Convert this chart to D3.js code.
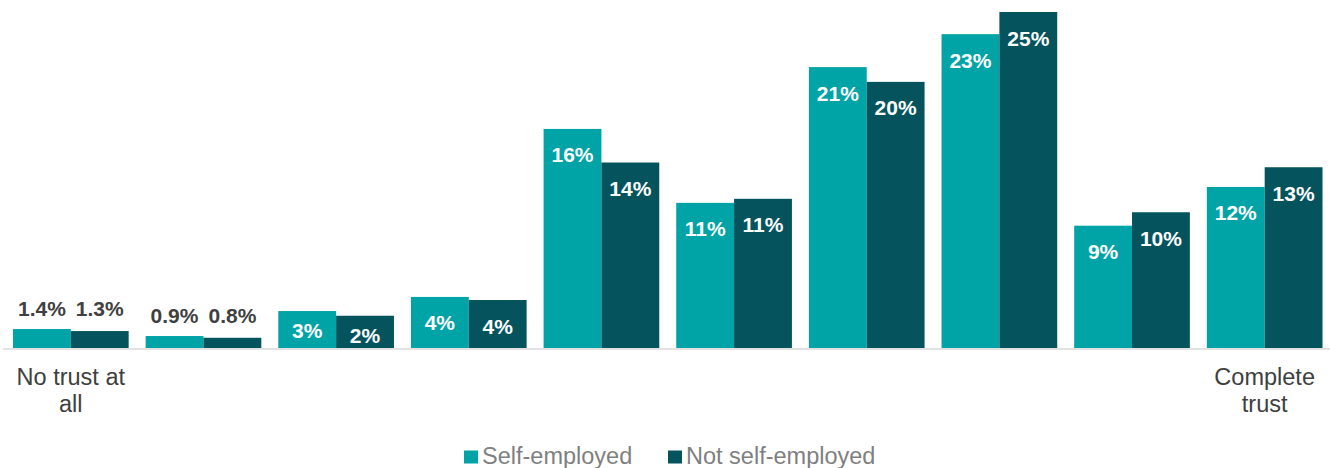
<!DOCTYPE html>
<html>
<head>
<meta charset="utf-8">
<script src="https://cdn.jsdelivr.net/npm/d3@7"></script>
<style>
  html, body { margin: 0; padding: 0; background: #fff; }
  svg { display: block; font-family: "Liberation Sans", Arial, sans-serif; }
</style>
</head>
<body>
<svg id="chart" width="1330" height="468"></svg>
<script>
// Trust scale categories (0 = no trust at all, 10 = complete trust)
const categories = ["0", "1", "2", "3", "4", "5", "6", "7", "8", "9"];
const categoryLabels = [["No trust at", "all"], [], [], [], [], [], [], [], [], ["Complete", "trust"]];
const seriesNames = ["Self-employed", "Not self-employed"];
const selfEmployed = [1.41, 0.89, 2.75, 3.8, 16.3, 10.8, 20.9, 23.35, 9.1, 11.98];
const notSelfEmployed = [1.26, 0.76, 2.4, 3.57, 13.8, 11.1, 19.8, 25.0, 10.1, 13.45];
const colors = ["#00a3a6", "#04535d"];

const svg = d3.select("#chart");
const baseline = 348;

const x = d3.scaleBand().domain(categories).range([4.5, 1331]).paddingInner(0.128).paddingOuter(0.064);
const xs = d3.scaleBand().domain(seriesNames).range([0, x.bandwidth()]);
const y = d3.scaleLinear().domain([0, 25]).range([baseline, 12]);

const fmt = v => (v < 2 ? v.toFixed(1) : String(Math.round(v))) + "%";

const rows = categories.map((c, i) => ({
  cat: c,
  vals: [selfEmployed[i], notSelfEmployed[i]]
}));

// baseline
svg.append("line")
  .attr("x1", 3).attr("x2", 1330)
  .attr("y1", baseline + 1).attr("y2", baseline + 1)
  .attr("stroke", "#d9d9d9").attr("stroke-width", 1.5);

const groups = svg.selectAll("g.grp").data(rows).join("g")
  .attr("class", "grp")
  .attr("transform", d => `translate(${x(d.cat)},0)`);

groups.selectAll("rect").data(d => d.vals.map((v, j) => ({ v, j }))).join("rect")
  .attr("x", d => xs(seriesNames[d.j]))
  .attr("width", xs.bandwidth())
  .attr("y", d => y(d.v))
  .attr("height", d => baseline - y(d.v))
  .attr("fill", d => colors[d.j]);

// value labels: inside the bar top when there is room, above the bar otherwise
groups.each(function (d) {
  const g = d3.select(this);
  const maxTop = Math.min(...d.vals.map(v => y(v)));
  d.vals.forEach((v, j) => {
    const top = y(v);
    const h = baseline - top;
    let yy, fill;
    if (h < 25) {
      yy = maxTop - 13.5;
      fill = "#404040";
    } else if (h < 45) {
      yy = top + 27;
      fill = "#ffffff";
    } else {
      yy = top + 33.5;
      fill = "#ffffff";
    }
    g.append("text")
      .attr("x", xs(seriesNames[j]) + xs.bandwidth() / 2)
      .attr("y", yy)
      .attr("text-anchor", "middle")
      .attr("font-size", 21)
      .attr("font-weight", "bold")
      .attr("fill", fill)
      .text(fmt(v));
  });
});

// category end labels
groups.each(function (d, i) {
  const lines = categoryLabels[i];
  const t = d3.select(this).append("text")
    .attr("text-anchor", "middle")
    .attr("font-size", 23.5)
    .attr("fill", "#404040");
  lines.forEach((ln, k) => {
    t.append("tspan")
      .attr("x", x.bandwidth() / 2)
      .attr("y", 385 + k * 27)
      .text(ln);
  });
});

// legend
const legendItems = [
  { name: seriesNames[0], color: colors[0], sx: 464, tx: 482 },
  { name: seriesNames[1], color: colors[1], sx: 668, tx: 686 }
];
const lg = svg.append("g");
legendItems.forEach(it => {
  lg.append("rect").attr("x", it.sx).attr("y", 450.5).attr("width", 14).attr("height", 13).attr("fill", it.color);
  lg.append("text").attr("x", it.tx).attr("y", 463.5)
    .attr("font-size", 23.5).attr("fill", "#7f7f7f").text(it.name);
});
</script>
</body>
</html>
